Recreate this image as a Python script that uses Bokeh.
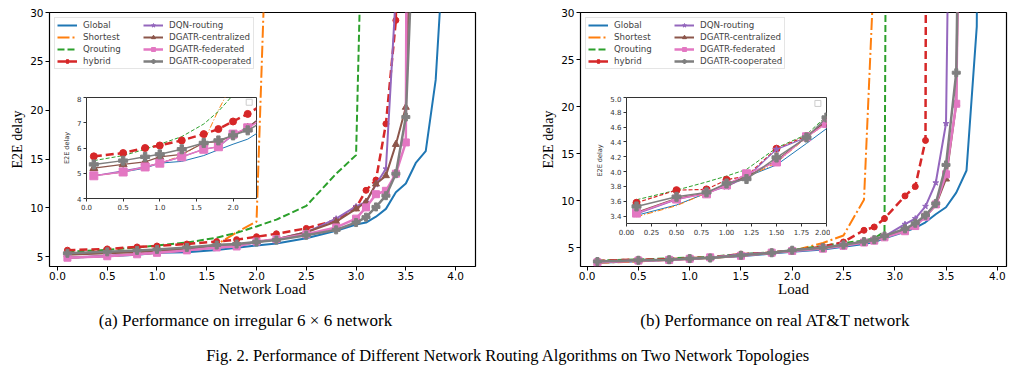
import numpy as np
from bokeh.plotting import figure
from bokeh.models import Range1d, FixedTicker, PrintfTickFormatter, Legend, LegendItem
from bokeh.layouts import row, column
from bokeh.core.properties import value
from bokeh.embed import file_html
from bokeh.resources import INLINE

# ---------------- data: (a) irregular 6x6 network ----------------
load_a = [0.1, 0.5, 0.8, 1.0, 1.3, 1.6, 1.8, 2.0, 2.2, 2.5, 2.8, 3.0, 3.1, 3.2, 3.3, 3.4, 3.5, 3.6, 3.7, 3.8, 3.9]
global_a = [4.9, 5.05, 5.2, 5.4, 5.47, 5.7, 5.93, 6.15, 6.35, 6.9, 7.65, 8.3, 8.5, 9.1, 9.9, 11.6, 12.5, 14.6, 15.8, 23.1, 40.0]
shortest_a = [4.9, 5.05, 5.25, 5.4, 5.7, 6.25, 7.5, 8.6, 70.0]
qrouting_a = [5.5, 5.7, 5.95, 6.15, 6.45, 6.95, 7.45, 8.1, 8.8, 10.2, 13.5, 15.4, 57.0]
hybrid_a = [5.67, 5.8, 6.0, 6.1, 6.3, 6.55, 6.75, 7.05, 7.35, 7.9, 8.75, 10.0, 11.8, 12.85, 18.6, 29.2, 200.0]
dqn_a = [4.9, 5.1, 5.25, 5.4, 5.65, 5.95, 6.05, 6.5, 6.8, 7.5, 8.9, 10.15, 10.6, 12.4, 14.0, 32.0]
central_a = [5.2, 5.35, 5.45, 5.65, 5.75, 6.2, 6.25, 6.5, 6.8, 7.5, 8.6, 9.9, 10.6, 12.45, 13.3, 16.5, 20.3, 60.0]
federated_a = [4.9, 5.05, 5.25, 5.4, 5.65, 5.95, 6.05, 6.55, 6.8, 7.3, 8.0, 8.9, 10.05, 11.4, 11.75, 13.5, 16.7, 300.0]
coop_a = [5.35, 5.5, 5.65, 5.75, 5.95, 6.2, 6.3, 6.5, 6.7, 7.2, 7.75, 8.5, 9.05, 10.1, 11.25, 13.5, 19.3, 45.0]

# ---------------- data: (b) real AT&T network ----------------
load_b = [0.1, 0.5, 0.8, 1.0, 1.2, 1.5, 1.8, 2.0, 2.3, 2.5, 2.7, 2.8, 2.9, 3.1, 3.2, 3.3, 3.4, 3.5, 3.6, 3.7, 3.8, 3.9]
global_b = [3.41, 3.55, 3.71, 3.82, 3.93, 4.09, 4.38, 4.58, 4.8, 5.1, 5.4, 5.6, 6.0, 6.7, 7.1, 7.7, 8.55, 9.3, 10.85, 13.2, 28.5, 200.0]
shortest_b = [3.39, 3.54, 3.71, 3.8, 3.92, 4.12, 4.46, 4.65, 5.5, 6.3, 10.1, 35.0]
qrouting_b = [3.62, 3.75, 3.86, 3.94, 4.03, 4.32, 4.5, 4.75, 5.2, 5.5, 5.75, 6.0, 6.7, 500.0]
hybrid_b = [3.58, 3.75, 3.76, 3.89, 3.94, 4.31, 4.48, 4.68, 5.1, 5.6, 6.85, 7.2, 8.1, 10.5, 11.5, 16.4, 500.0]
dqn_b = [3.43, 3.62, 3.71, 3.8, 3.92, 4.3, 4.46, 4.7, 5.0, 5.3, 5.65, 5.9, 6.2, 7.5, 8.1, 9.4, 11.9, 18.2, 100.0]
central_b = [3.45, 3.64, 3.71, 3.84, 3.93, 4.15, 4.47, 4.68, 4.95, 5.25, 5.6, 5.8, 6.15, 6.9, 7.5, 8.3, 9.5, 12.3, 20.3, 100.0]
federated_b = [3.44, 3.63, 3.70, 3.82, 3.97, 4.13, 4.47, 4.65, 4.9, 5.2, 5.55, 5.75, 6.1, 6.75, 7.3, 8.3, 9.6, 12.8, 20.3, 100.0]
coop_b = [3.53, 3.66, 3.72, 3.84, 3.9, 4.19, 4.46, 4.73, 5.0, 5.3, 5.65, 5.85, 6.25, 7.0, 7.6, 8.45, 9.7, 13.8, 23.6, 100.0]

series_names = ["Global", "Shortest", "Qrouting", "hybrid", "DQN-routing",
                "DGATR-centralized", "DGATR-federated", "DGATR-cooperated"]

# tick labels
main_xticks = [0.0, 0.5, 1.0, 1.5, 2.0, 2.5, 3.0, 3.5, 4.0]
main_yticks = [5, 10, 15, 20, 25, 30]
inset_a_xticks = [0.0, 0.5, 1.0, 1.5, 2.0]
inset_a_yticks = [4, 5, 6, 7, 8]
inset_b_xticks = [0.0, 0.25, 0.5, 0.75, 1.0, 1.25, 1.5, 1.75, 2.0]
inset_b_yticks = [3.4, 3.6, 3.8, 4.0, 4.2, 4.4, 4.6, 4.8, 5.0]

xlabel_a = "Network Load"
xlabel_b = "Load"
ylabel = "E2E delay"
subcap_a = "(a) Performance on irregular 6 \u00d7 6 network"
subcap_b = "(b) Performance on real AT&T network"
caption = "Fig. 2.  Performance of Different Network Routing Algorithms on Two Network Topologies"

# ---------------- styles ----------------
COLORS = ["#1f77b4", "#ff7f0e", "#2ca02c", "#d62728", "#9467bd", "#8c564b", "#e377c2", "#7f7f7f"]
MAIN_DASH = ["solid", "12 3 2 3", "7 3", "8 4", "solid", "solid", "solid", "solid"]
MAIN_W = [2, 2, 2, 2.5, 2, 2, 2.5, 2.5]
MARKERS = [None, None, None, "circle", "star", "triangle", "square", "plus"]
MSIZE = [0, 0, 0, 6, 6, 7, 7, 8]

SANS = "DejaVu Sans"
SERIF = "Liberation Serif"


def style_axis(ax, tick_size, label_size, tick_out, std, lab_std, serif=True):
    ax.axis_line_color = None
    ax.major_tick_out = tick_out
    ax.major_tick_in = 0
    ax.major_tick_line_color = "black"
    ax.minor_tick_line_color = None
    ax.major_label_text_font = SANS
    ax.major_label_text_font_size = tick_size
    ax.major_label_text_color = "black"
    ax.major_label_standoff = std
    ax.axis_label_text_font = SERIF if serif else SANS
    ax.axis_label_text_font_style = "normal"
    ax.axis_label_text_font_size = label_size
    ax.axis_label_text_color = "black"
    ax.axis_label_standoff = lab_std


def make_main(load, ys, xr, yr, xlabel, width, bl, br):
    p = figure(width=width, height=305, x_range=Range1d(*xr), y_range=Range1d(*yr),
               output_backend="svg", toolbar_location=None,
               min_border_left=bl, min_border_right=br, min_border_top=12, min_border_bottom=39)
    p.xgrid.visible = False
    p.ygrid.visible = False
    p.outline_line_color = "black"
    p.outline_line_width = 1.2
    p.background_fill_color = "white"
    p.xaxis.axis_label = xlabel
    p.yaxis.axis_label = ylabel
    p.xaxis.ticker = FixedTicker(ticks=main_xticks)
    p.xaxis.formatter = PrintfTickFormatter(format="%.1f")
    p.yaxis.ticker = FixedTicker(ticks=main_yticks)
    p.yaxis.formatter = PrintfTickFormatter(format="%d")
    style_axis(p.xaxis[0], "10.5px", "15px", 4, 1, -2)
    style_axis(p.yaxis[0], "10.5px", "14px", 4, 2, 2)
    items = []
    for i, y in enumerate(ys):
        x = load[:len(y)]
        rs = [p.line(x, y, line_color=COLORS[i], line_width=MAIN_W[i], line_dash=MAIN_DASH[i])]
        if MARKERS[i]:
            rs.append(p.scatter(x, y, marker=MARKERS[i], size=MSIZE[i],
                                fill_color=COLORS[i], line_color=COLORS[i]))
        items.append(LegendItem(label=series_names[i], renderers=rs))
    leg = Legend(items=items, location="top_left", ncols=2, margin=5, padding=2, spacing=2,
                 glyph_width=20, glyph_height=10, label_height=10, label_standoff=6,
                 label_width=58, label_text_font=SANS, label_text_font_size="8.7px",
                 border_line_color="#cccccc", border_line_width=1,
                 background_fill_color="white", background_fill_alpha=0.85)
    p.add_layout(leg)
    return p


def make_inset(load, ys, xr, yr, xticks, yticks, xfmt, yfmt, frame_w, frame_h, bl, br,
               frame_left, frame_top, widths, dashes):
    # borders are kept equal to the host panel's borders (the column aligns them)
    fw = bl + frame_w + br
    fh = 2 + frame_h + 16
    ip = figure(width=fw, height=fh, x_range=Range1d(*xr), y_range=Range1d(*yr),
                output_backend="svg", toolbar_location=None,
                min_border_left=bl, min_border_right=br, min_border_top=2, min_border_bottom=16,
                styles={"position": "absolute", "left": f"{frame_left - bl}px",
                        "top": f"{frame_top - 2}px"})
    ip.xgrid.visible = False
    ip.ygrid.visible = False
    ip.border_fill_alpha = 0
    ip.background_fill_color = "white"
    ip.outline_line_color = "#333333"
    ip.outline_line_width = 1
    ip.xaxis.ticker = FixedTicker(ticks=xticks)
    ip.xaxis.formatter = PrintfTickFormatter(format=xfmt)
    ip.yaxis.ticker = FixedTicker(ticks=yticks)
    ip.yaxis.formatter = PrintfTickFormatter(format=yfmt)
    ip.yaxis.axis_label = ylabel
    style_axis(ip.xaxis[0], "7px", "7px", 3, 2, 2, serif=False)
    style_axis(ip.yaxis[0], "7px", "6.5px", 3, 2, 3, serif=False)
    for ax in (ip.xaxis[0], ip.yaxis[0]):
        ax.major_tick_line_color = "#333333"
        ax.major_label_text_color = "#333333"
        ax.axis_label_text_color = "#333333"
    for i, y in enumerate(ys):
        x = load[:len(y)]
        ip.line(x, y, line_color=COLORS[i], line_width=widths[i], line_dash=dashes[i])
        if MARKERS[i]:
            ip.scatter(x, y, marker=MARKERS[i], size=MSIZE[i] + 1,
                       fill_color=COLORS[i], line_color=COLORS[i])
    # empty legend box (as in the original inset)
    ip.scatter([xr[1] - (xr[1] - xr[0]) * 0.043], [yr[1] - (yr[1] - yr[0]) * 0.047], marker="square",
               size=6, fill_color="white", line_color="#cccccc")
    return ip


ys_a = [global_a, shortest_a, qrouting_a, hybrid_a, dqn_a, central_a, federated_a, coop_a]
ys_b = [global_b, shortest_b, qrouting_b, hybrid_b, dqn_b, central_b, federated_b, coop_b]

fa = make_main(load_a, ys_a, (-0.08, 4.2), (4, 30), xlabel_a, 520, 49, 45)
fb = make_main(load_b, ys_b, (-0.065, 4.09), (3, 30), xlabel_b, 490, 60, 4)

ia = make_inset(load_a, ys_a, (0, 2.32), (4, 8), inset_a_xticks, inset_a_yticks, "%.1f", "%d",
                170, 101, 49, 45, 86, 97,
                [1, 1, 1, 2.5, 1.2, 1.2, 1.5, 1.5],
                ["solid", "6 2 1 2", "4 2", "8 4", "solid", "solid", "solid", "solid"])
ib = make_inset(load_b, ys_b, (0, 2.0), (3.3, 5.0), inset_b_xticks, inset_b_yticks, "%.2f", "%.1f",
                200, 126, 60, 4, 626 - 520, 97,
                [1, 1, 1, 1.2, 1.2, 1.2, 1.5, 1.5],
                ["solid", "6 2 1 2", "4 2", "4 2", "solid", "solid", "solid", "solid"])

col_a = column(fa, ia, styles={"position": "relative"})
col_b = column(fb, ib, styles={"position": "relative"})

cap = figure(width=1010, height=64, x_range=Range1d(0, 1010), y_range=Range1d(64, 0),
             output_backend="svg", toolbar_location=None, min_border=0,
             x_axis_location=None, y_axis_location=None)
cap.xgrid.visible = False
cap.ygrid.visible = False
cap.outline_line_color = None
cap.text(x=[245, 775], y=[15, 15], text=[subcap_a, subcap_b], text_align="center",
         text_baseline="middle", text_font=value(SERIF), text_font_size="17px", text_color="black")
cap.text(x=[510], y=[50], text=[caption], text_align="center", text_baseline="middle",
         text_font=value(SERIF), text_font_size="16.5px", text_color="black")

layout = column(row(col_a, col_b), cap)

open("out.html", "w").write(file_html(layout, INLINE))
